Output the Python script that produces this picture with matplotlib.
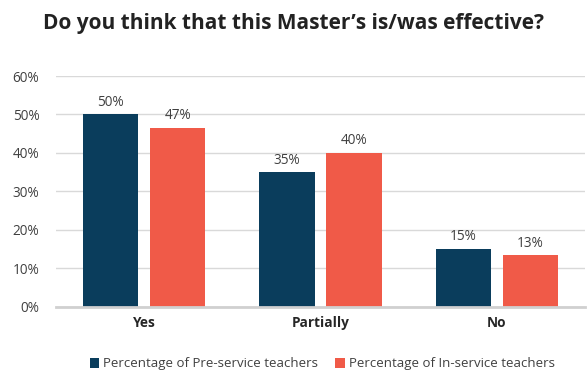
import matplotlib
matplotlib.use("Agg")
import matplotlib.pyplot as plt
import numpy as np

categories = ["Yes", "Partially", "No"]
pre_service = [50, 35, 15]
in_service = [46.6, 40, 13.4]
series_names = ["Percentage of Pre-service teachers", "Percentage of In-service teachers"]
yticks = [0, 10, 20, 30, 40, 50, 60]

plt.rcParams['font.family'] = ['Open Sans', 'DejaVu Sans']

fig = plt.figure(figsize=(5.87, 3.71), dpi=100)
ax = fig.add_axes([56/587, 1-306.7/371, (585-56)/587, (306.7-76)/371])

navy = "#0a3d5c"
red = "#f05a48"
x = np.arange(len(categories))
w = 0.312
off = 0.19
b1 = ax.bar(x - off, pre_service, w, color=navy, label=series_names[0], zorder=3)
b2 = ax.bar(x + off, in_service, w, color=red, label=series_names[1], zorder=3)

for bars, vals in ((b1, pre_service), (b2, in_service)):
    for rect, v in zip(bars, vals):
        ax.text(rect.get_x() + rect.get_width()/2, v + 1.2, f"{round(v):.0f}%",
                ha="center", va="bottom", fontsize=9.8, color="#404040")

ax.set_xlim(-0.5, 2.5)
ax.set_ylim(0, 60)
ax.set_yticks(yticks)
ax.set_yticklabels([f"{t}%" for t in yticks], fontsize=9.8, color="#404040")
ax.set_xticks(x)
ax.set_xticklabels(categories, fontsize=9.8, fontweight="bold", color="#262626")
ax.tick_params(axis="both", length=0)
ax.tick_params(axis="y", pad=12)
ax.tick_params(axis="x", pad=7)
ax.grid(axis="y", color="#d9d9d9", linewidth=1, zorder=0)
for s in ["top", "right", "left"]:
    ax.spines[s].set_visible(False)
ax.spines["bottom"].set_color("#d0d0d0")
ax.spines["bottom"].set_linewidth(2)
ax.spines["bottom"].set_zorder(4)

fig.text(0.5, 1-23/371, "Do you think that this Master\u2019s is/was effective?",
         ha="center", va="center", fontsize=15, fontweight="bold", color="#222222")

fig.legend(handles=[b1, b2], labels=series_names, loc="center",
           bbox_to_anchor=(0.549, 1-364/371), ncol=2, frameon=False,
           fontsize=9.5, handlelength=0.7, handleheight=0.7, handletextpad=0.3,
           columnspacing=1.3, labelcolor="#404040")

fig.savefig("out.png", dpi=100)
